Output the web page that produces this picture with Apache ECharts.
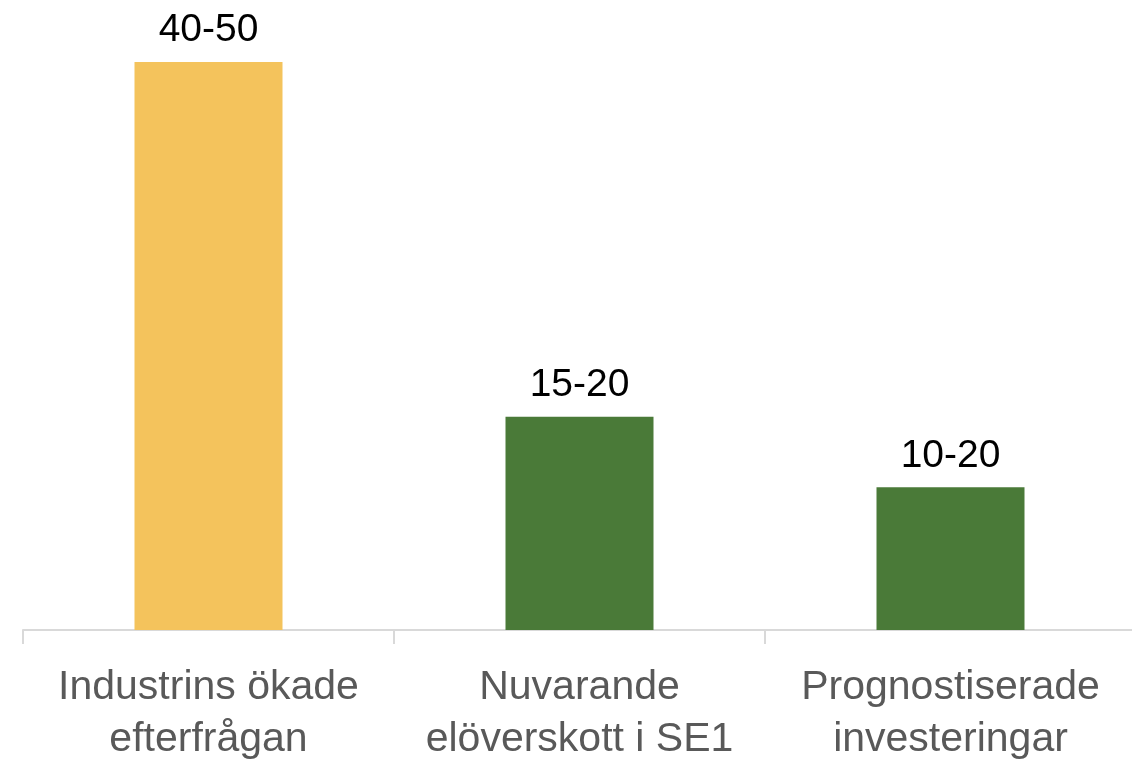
<!DOCTYPE html>
<html>
<head>
<meta charset="utf-8">
<script src="https://cdn.jsdelivr.net/npm/echarts@6/dist/echarts.min.js"></script>
<style>
  html, body { margin: 0; padding: 0; background: #fff; }
  #chart { width: 1132px; height: 765px; }
</style>
</head>
<body>
<div id="chart"></div>
<script>
  // categories and values
  const categories = ['Industrins ökade\nefterfrågan', 'Nuvarande\nelöverskott i SE1', 'Prognostiserade\ninvesteringar']
  const values = [45, 16.9, 11.3]
  const rangeLabels = ['40-50', '15-20', '10-20']
  const barColors = ['#F4C35C', '#4A7A38', '#4A7A38']

  const myChart = echarts.init(document.getElementById('chart'))

  var option = {
    animation: false,
    grid: { left: 23, top: 62, width: 1113, bottom: 135, outerBoundsMode: 'none', containLabel: false },
    xAxis: {
      type: 'category',
      data: categories,
      axisLine: { lineStyle: { color: '#D9D9D9', width: 2 } },
      axisTick: { show: true, length: 14, lineStyle: { color: '#D9D9D9', width: 2 } },
      axisLabel: {
        interval: 0,
        color: '#595959',
        fontFamily: 'Liberation Sans',
        fontSize: 41,
        lineHeight: 52,
        margin: 32,
      },
    },
    yAxis: {
      type: 'value',
      min: 0,
      max: 45,
      show: false,
      splitLine: { show: false },
    },
    series: [
      {
        type: 'bar',
        barWidth: 148,
        data: values.map(function (v, i) {
          return { value: v, itemStyle: { color: barColors[i] } }
        }),
        label: {
          show: true,
          position: 'top',
          distance: 12,
          color: '#000',
          fontFamily: 'Liberation Sans',
          fontSize: 39,
          formatter: function (p) {
            return rangeLabels[p.dataIndex]
          },
        },
      },
    ],
  }

  myChart.setOption(option)
</script>
</body>
</html>
